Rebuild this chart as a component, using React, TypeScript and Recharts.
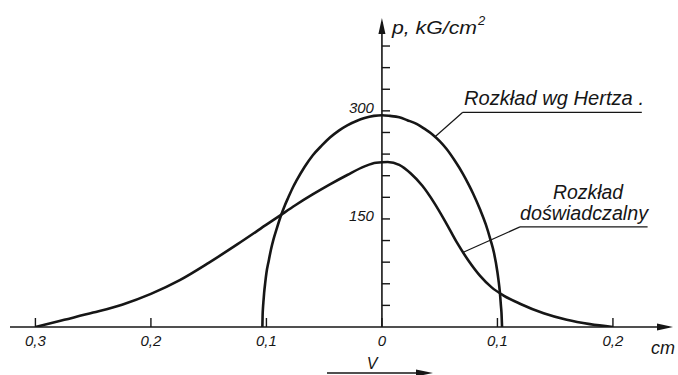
import { LineChart, Line, XAxis, YAxis, ReferenceLine } from "recharts";

// rozkład nacisku wg Hertza: x [cm], p [kG/cm2]
const hertzX = [-0.1035, -0.1033, -0.103, -0.1025, -0.102, -0.101, -0.1, -0.098, -0.096, -0.094, -0.091, -0.088, -0.084, -0.081, -0.077, -0.074, -0.067, -0.06, -0.052, -0.045, -0.037, -0.03, -0.022, -0.015, -0.007, 0, 0.007, 0.015, 0.022, 0.03, 0.037, 0.044, 0.05, 0.056, 0.063, 0.07, 0.075, 0.079, 0.085, 0.09, 0.094, 0.097, 0.1, 0.101, 0.102, 0.103, 0.1035, 0.104];
const hertzP = [0, 16, 26, 37, 47, 62, 75, 92, 108, 121, 137, 152, 169, 180, 194, 203, 222, 238, 252, 263, 273, 280, 286, 290, 293, 294, 293, 291, 287, 282, 275, 267, 258, 247, 231, 213, 198, 185, 163, 142, 121, 103, 76, 64, 50, 30, 20, 0];

// rozkład doświadczalny
const expX = [-0.3, -0.275, -0.25, -0.225, -0.2, -0.175, -0.15, -0.125, -0.1, -0.088, -0.075, -0.06, -0.045, -0.03, -0.015, -0.005, 0.005, 0.015, 0.025, 0.035, 0.045, 0.055, 0.065, 0.075, 0.085, 0.095, 0.105, 0.12, 0.14, 0.16, 0.18, 0.2];
const expP = [0, 10, 20, 31, 46, 65, 89, 115, 142, 155, 169, 184, 198, 211, 223, 228, 229, 225, 213, 196, 173, 146, 117, 92, 71, 55, 44, 32, 19, 10, 4, 0];

const xTicks = [-0.3, -0.2, -0.1, 0, 0.1, 0.2];
const pTicks = [30, 60, 90, 120, 150, 180, 210, 240, 270, 300, 330, 360, 390];
const pLabels = [150, 300];

const X_MIN = -0.322;
const X_MAX = 0.252;
const P_MAX = 440;
const P_AXIS_TOP = 429;

const hertzData = hertzX.map((x, i) => ({ x, p: hertzP[i] }));
const expData = expX.map((x, i) => ({ x, p: expP[i] }));

const INK = "#161616";
const FONT = "'Liberation Sans', Arial, sans-serif";

const fmtX = (v: number) => (v === 0 ? "0" : Math.abs(v).toFixed(1).replace(".", ","));

function XTick(props: any) {
  const { x, y, payload } = props;
  return (
    <g>
      <line x1={x} y1={y} x2={x} y2={y - 9} stroke={INK} strokeWidth={1.4} />
      <text x={x} y={y + 19} textAnchor="middle" fontFamily={FONT} fontStyle="italic" fontSize={15} fill={INK}>
        {fmtX(payload.value)}
      </text>
    </g>
  );
}

// oś zakończona grotem
const arrowAxis = (dir: "up" | "right") => (props: any) => {
  const { x1, y1, x2, y2 } = props;
  if (dir === "right") {
    const tx = Math.max(x1, x2);
    const sx = Math.min(x1, x2);
    return (
      <g>
        <line x1={sx} y1={y1} x2={tx - 4} y2={y2} stroke={INK} strokeWidth={1.6} />
        <polygon points={`${tx},${y1} ${tx - 16},${y1 - 3.5} ${tx - 16},${y1 + 3.5}`} fill={INK} />
      </g>
    );
  }
  const ty = Math.min(y1, y2);
  const sy = Math.max(y1, y2);
  return (
    <g>
      <line x1={x1} y1={sy} x2={x1} y2={ty + 4} stroke={INK} strokeWidth={1.6} />
      <polygon points={`${x1},${ty} ${x1 - 3.5},${ty + 16} ${x1 + 3.5},${ty + 16}`} fill={INK} />
    </g>
  );
};

export default function App() {
  return (
    <div style={{ position: "absolute", left: 0, top: 0, background: "#fff" }}>
      <LineChart width={678} height={375} margin={{ top: 10, right: 5, bottom: 0, left: 10 }}>
        <XAxis
          type="number"
          dataKey="x"
          domain={[X_MIN, X_MAX]}
          ticks={xTicks}
          interval={0}
          allowDataOverflow
          axisLine={false}
          tickLine={false}
          tickSize={0}
          tickMargin={0}
          height={48}
          tick={<XTick />}
        />
        <YAxis type="number" domain={[0, P_MAX]} hide allowDataOverflow />

        <ReferenceLine segment={[{ x: X_MIN, y: 0 }, { x: X_MAX, y: 0 }]} shape={arrowAxis("right")} />
        <ReferenceLine segment={[{ x: 0, y: 0 }, { x: 0, y: P_AXIS_TOP }]} shape={arrowAxis("up")} />

        {pTicks.map((v) => (
          <ReferenceLine
            key={v}
            segment={[{ x: 0, y: v }, { x: 0.007, y: v }]}
            stroke={INK}
            strokeWidth={1.4}
            label={
              pLabels.includes(v)
                ? { value: String(v), position: "left", offset: 8, dy: -3, fontFamily: FONT, fontStyle: "italic", fontSize: 15, fill: INK }
                : undefined
            }
          />
        ))}

        {/* odnośniki opisów */}
        <ReferenceLine segment={[{ x: 0.046, y: 264 }, { x: 0.07, y: 298 }]} stroke={INK} strokeWidth={1.2} />
        <ReferenceLine segment={[{ x: 0.07, y: 298 }, { x: 0.225, y: 298 }]} stroke={INK} strokeWidth={1.2} />
        <ReferenceLine segment={[{ x: 0.0695, y: 103 }, { x: 0.1195, y: 139 }]} stroke={INK} strokeWidth={1.2} />
        <ReferenceLine segment={[{ x: 0.1195, y: 139 }, { x: 0.23, y: 139 }]} stroke={INK} strokeWidth={1.2} />

        <Line data={hertzData} dataKey="p" type="monotone" stroke={INK} strokeWidth={2.6} dot={false} activeDot={false} isAnimationActive={false} />
        <Line data={expData} dataKey="p" type="monotone" stroke={INK} strokeWidth={2.6} dot={false} activeDot={false} isAnimationActive={false} />

        <g fontFamily={FONT} fontStyle="italic" fill={INK}>
          <text x={392} y={34} fontSize={19} textLength={85} lengthAdjust="spacingAndGlyphs">
            p, kG/cm
          </text>
          <text x={478} y={25} fontSize={13}>
            2
          </text>
          <text x={464} y={105} fontSize={20} textLength={180} lengthAdjust="spacingAndGlyphs">
            Rozkład  wg  Hertza .
          </text>
          <text x={553} y={199} fontSize={20} textLength={70} lengthAdjust="spacingAndGlyphs">
            Rozkład
          </text>
          <text x={520} y={220} fontSize={20} textLength={128} lengthAdjust="spacingAndGlyphs">
            doświadczalny
          </text>
          <text x={651} y={354} fontSize={18}>
            cm
          </text>
          <text x={372} y={369} fontSize={16} textAnchor="middle">
            V
          </text>
        </g>
        <line x1={327} y1={373} x2={420} y2={373} stroke={INK} strokeWidth={1.4} />
        <polygon points="433,373 416,369.5 416,376.5" fill={INK} />
      </LineChart>
    </div>
  );
}
